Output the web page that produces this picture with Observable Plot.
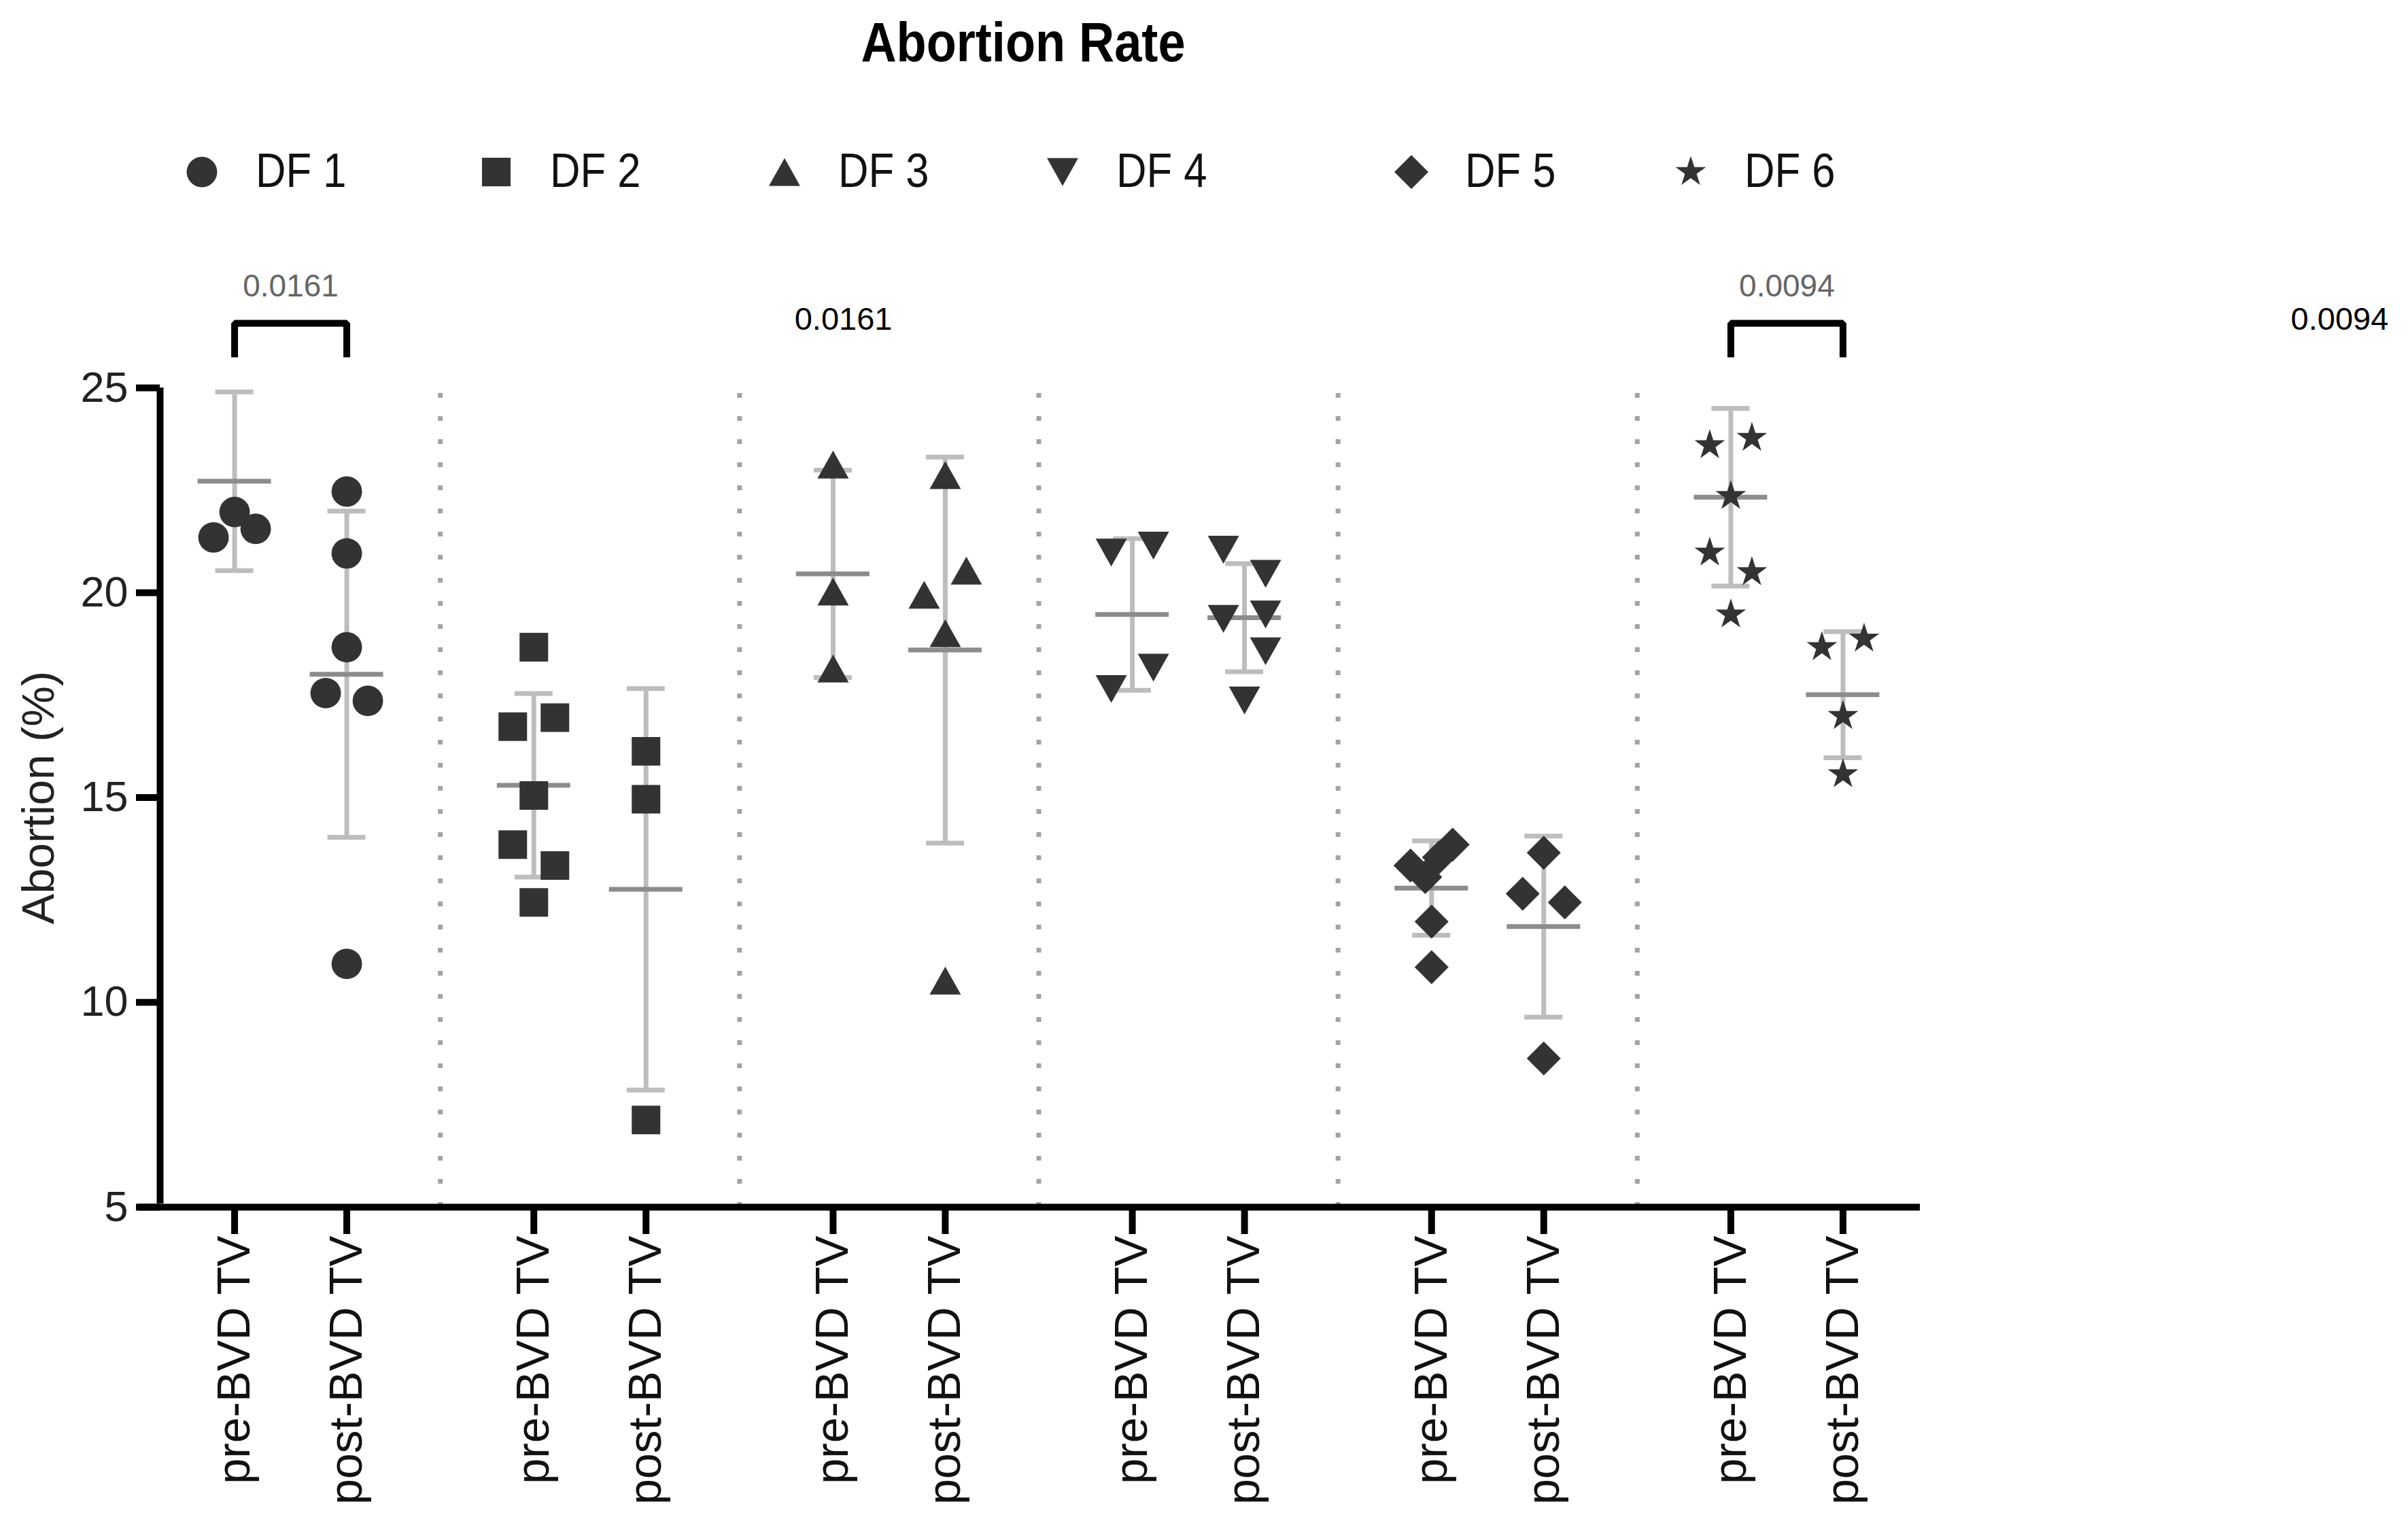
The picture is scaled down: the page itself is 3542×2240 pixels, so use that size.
<!DOCTYPE html>
<html>
<head>
<meta charset="utf-8">
<script src="https://cdn.jsdelivr.net/npm/d3@7"></script>
<script src="https://cdn.jsdelivr.net/npm/@observablehq/plot@0.6"></script>
<style>
html, body { margin: 0; padding: 0; background: #fff; }
#page { position: relative; width: 3542px; height: 2240px; overflow: hidden; font-family: "Liberation Sans", Arial, sans-serif; background: #fff; }
#header { position: relative; width: 3542px; height: 400px; }
#title { position: absolute; left: 1005px; width: 1000px; top: 21px; text-align: center; font-weight: bold; font-size: 82px; line-height: 82px; color: #000; transform: scaleX(0.88); transform-origin: 50% 50%; white-space: nowrap; }
.leg { position: absolute; top: 0; height: 400px; }
.leg svg { position: absolute; left: -40px; top: 213px; width: 80px; height: 80px; overflow: visible; }
.leg span { position: absolute; top: 216px; left: 79px; font-size: 70px; line-height: 70px; white-space: nowrap; transform: scaleX(0.88); transform-origin: 0 50%; color: #111; }
#chart svg { display: block; }
</style>
</head>
<body>
<div id="page">
  <div id="header">
    <div id="title"></div>
  </div>
  <div id="chart"></div>
</div>
<script>
// ---------------- data ----------------
const chartTitle = "Abortion Rate";
const yLabel = "Abortion (%)";
const farms = ["DF 1", "DF 2", "DF 3", "DF 4", "DF 5", "DF 6"];
const periods = ["pre-BVD TV", "post-BVD TV"];
const yTicks = [5, 10, 15, 20, 25];

// individual herd values per farm
const preValues = [
  [21.97, 21.35, 21.56],
  [18.67, 16.73, 16.95, 15.05, 13.85, 13.34, 12.44],
  [23.13, 20.03, 18.15],
  [20.98, 21.15, 18.17, 17.65],
  [13.85, 13.54, 13.34, 13.06, 11.97, 10.86],
  [23.78, 23.60, 22.36, 20.98, 20.50, 19.47]
];
// column slot of each point (-1 left, 0 centre, 1 right) as scattered in the picture
const preSides = [
  [0, -1, 1],
  [0, -1, 1, 0, -1, 1, 0],
  [0, 0, 0],
  [-1, 1, 1, -1],
  [1, 0.35, -1, -0.3, 0, 0],
  [1, -1, 0, -1, 1, 0]
];
const postValues = [
  [22.47, 20.96, 18.67, 17.55, 17.36, 10.94],
  [16.13, 14.96, 7.13],
  [22.87, 20.54, 19.95, 19.01, 10.53],
  [21.05, 20.46, 19.47, 19.36, 18.57, 17.37],
  [13.65, 12.65, 12.44, 8.63],
  [18.88, 18.67, 16.99, 15.57]
];
const postSides = [
  [0, 0, 0, -1, 1, 0],
  [0, 0, 0],
  [0, 1, -1, 0, 0],
  [-1, 1, 1, -1, 1, 0],
  [0, -1, 1, 0],
  [1, -1, 0, 0]
];
// mean and SD as drawn
const preMean = [22.72, 15.30, 20.46, 19.47, 12.79, 22.33];
const preSD   = [2.18, 2.24, 2.53, 1.85, 1.15, 2.17];
const postMean = [18.01, 12.76, 18.60, 19.39, 11.85, 17.51];
const postSD   = [3.98, 4.90, 4.71, 1.32, 2.21, 1.54];
// significance brackets
const pFarms = ["DF 1", "DF 6"];
const pLabels = ["0.0161", "0.0094"];

// ---------------- layout ----------------
const W = 3542, H = 1840, ML = 207, MR = 694, MT = 170, MB = 465;
const k = (W - ML - MR) / farms.length;         // px per farm band
const pxPerUnit = (H - MT - MB) / (25 - 5);      // px per % on y
const pairHalf = 82.5 / k;                       // pre/post offset from farm centre
const spread = 31 / k;                           // scatter slot width
const capHalf = 28 / k, meanHalf = 54 / k;
const above = px => 25 + px / pxPerUnit;         // y value px above the top of the axis

// ---------------- symbols ----------------
function sym(fn) { return { draw(c, size) { fn(c, Math.sqrt(size / Math.PI)); } }; }
const symCircle = sym((c, R) => { const r = R * 1.02; c.moveTo(r, 0); c.arc(0, 0, r, 0, 2 * Math.PI); });
const symSquare = sym((c, R) => { const h = R * 0.955; c.rect(-h, -h, 2 * h, 2 * h); });
const symTriUp = sym((c, R) => { const w = R * 1.045, h = R * 0.93; c.moveTo(0, -h); c.lineTo(w, h); c.lineTo(-w, h); c.closePath(); });
const symTriDown = sym((c, R) => { const w = R * 1.045, h = R * 0.93; c.moveTo(0, h); c.lineTo(w, -h); c.lineTo(-w, -h); c.closePath(); });
const symDiamond = sym((c, R) => { const h = R * 1.136; c.moveTo(0, -h); c.lineTo(h, 0); c.lineTo(0, h); c.lineTo(-h, 0); c.closePath(); });
const symStar = sym((c, R) => {
  const ro = R * 1.07, ri = ro * 0.382;
  for (let i = 0; i < 10; i++) {
    const a = -Math.PI / 2 + i * Math.PI / 5, r = i % 2 ? ri : ro;
    const x = r * Math.cos(a), y = r * Math.sin(a);
    if (i) c.lineTo(x, y); else c.moveTo(x, y);
  }
  c.closePath();
});
const farmSymbols = [symCircle, symSquare, symTriUp, symTriDown, symDiamond, symStar];
const R0 = 22;
const markFill = "#333333";

// ---------------- header: title + legend ----------------
document.getElementById("title").textContent = chartTitle;
const legendX = [297, 730, 1154, 1563, 2076, 2487];
const header = document.getElementById("header");
farms.forEach((f, i) => {
  const item = document.createElement("div");
  item.className = "leg";
  item.style.left = legendX[i] + "px";
  const p = d3.symbol(farmSymbols[i], Math.PI * R0 * R0)();
  item.innerHTML = `<svg viewBox="-40 -40 80 80"><path d="${p}" fill="${markFill}"/></svg><span></span>`;
  item.querySelector("span").textContent = f;
  header.appendChild(item);
});

// ---------------- tidy tables ----------------
const points = [];
farms.forEach((f, i) => {
  [preValues, postValues].forEach((vals, j) => {
    const sides = j === 0 ? preSides[i] : postSides[i];
    vals[i].forEach((v, n) => points.push({farm: f, fi: i, period: j, value: v, side: sides[n]}));
  });
});
const stats = farms.flatMap((f, i) => [0, 1].map(j => ({
  farm: f, fi: i, period: j,
  mean: j ? postMean[i] : preMean[i],
  sd: j ? postSD[i] : preSD[i]
})));
const xc = d => d.fi + (d.period === 0 ? -pairHalf : pairHalf);
const xp = d => xc(d) + d.side * spread;

const tickPos = farms.flatMap((f, i) => [i - pairHalf, i + pairHalf]);
const tickFormat = v => (v - Math.round(v) < 0 ? periods[0] : periods[1]);

const brackets = pFarms.map((f, n) => ({farm: f, fi: farms.indexOf(f), p: pLabels[n]}));
const bracketTop = above(95), bracketFoot = above(45), pY = above(149);
const bracketPts = brackets.flatMap(b => [
  {id: b.farm, x: b.fi - pairHalf, y: bracketFoot},
  {id: b.farm, x: b.fi - pairHalf, y: bracketTop},
  {id: b.farm, x: b.fi + pairHalf, y: bracketTop},
  {id: b.farm, x: b.fi + pairHalf, y: bracketFoot}
]);

const dotMarks = farms.map((f, i) => Plot.dot(points.filter(d => d.fi === i), {
  x: xp, y: "value", r: R0, symbol: farmSymbols[i], fill: markFill, stroke: "none"
}));

const chart = Plot.plot({
  width: W, height: H,
  marginLeft: ML, marginRight: MR, marginTop: MT, marginBottom: MB,
  style: {fontFamily: "'Liberation Sans', Arial, sans-serif", background: "white", overflow: "visible", color: "#000"},
  x: {type: "linear", domain: [-0.5, farms.length - 0.5]},
  y: {type: "linear", domain: [5, 25]},
  marks: [
    // dotted separators between farms
    Plot.ruleX(d3.range(1, farms.length).map(i => i - 0.5), {y1: 5, y2: 25, stroke: "#a3a3a3", strokeWidth: 7, strokeDasharray: "7 27"}),
    // SD bars
    Plot.ruleX(stats, {x: xc, y1: d => d.mean - d.sd, y2: d => d.mean + d.sd, stroke: "#bdbdbd", strokeWidth: 7}),
    Plot.ruleY(stats, {y: d => d.mean + d.sd, x1: d => xc(d) - capHalf, x2: d => xc(d) + capHalf, stroke: "#bdbdbd", strokeWidth: 7}),
    Plot.ruleY(stats, {y: d => d.mean - d.sd, x1: d => xc(d) - capHalf, x2: d => xc(d) + capHalf, stroke: "#bdbdbd", strokeWidth: 7}),
    // means
    Plot.ruleY(stats, {y: "mean", x1: d => xc(d) - meanHalf, x2: d => xc(d) + meanHalf, stroke: "#8c8c8c", strokeWidth: 7}),
    // points
    ...dotMarks,
    // axis lines
    Plot.ruleY([5], {stroke: "#000", strokeWidth: 10, insetLeft: -4, insetRight: 24}),
    Plot.ruleX([-0.5], {y1: 5, y2: 25, dx: 28, stroke: "#000", strokeWidth: 10, insetTop: -5}),
    Plot.axisY(yTicks, {dx: 28, tickSize: 35, tickPadding: 12, strokeWidth: 10, fontSize: 63, color: "#000", fill: "#222", tickFormat: d3.format("d"), label: null}),
    Plot.axisX(tickPos, {tickSize: 40, tickPadding: 2, strokeWidth: 10, fontSize: 68, tickRotate: -90, textAnchor: "end", lineAnchor: "middle", tickFormat, color: "#000", fill: "#111", label: null}),
    Plot.text([yLabel], {text: d => d, frameAnchor: "left", textAnchor: "middle", lineAnchor: "middle", rotate: -90, dx: -150, fontSize: 67, fill: "#222"}),
    // significance brackets and p values
    Plot.line(bracketPts, {x: "x", y: "y", z: "id", stroke: "#000", strokeWidth: 10, strokeLinejoin: "miter", strokeLinecap: "butt"}),
    Plot.text(brackets, {x: "fi", y: () => pY, text: "p", fontSize: 46, fill: "#666"}),
    Plot.text(brackets, {x: "fi", y: () => pY, text: "p", dx: 813, dy: 48, fontSize: 47, fill: "#000"})
  ]
});
document.getElementById("chart").appendChild(chart);
</script>
</body>
</html>
